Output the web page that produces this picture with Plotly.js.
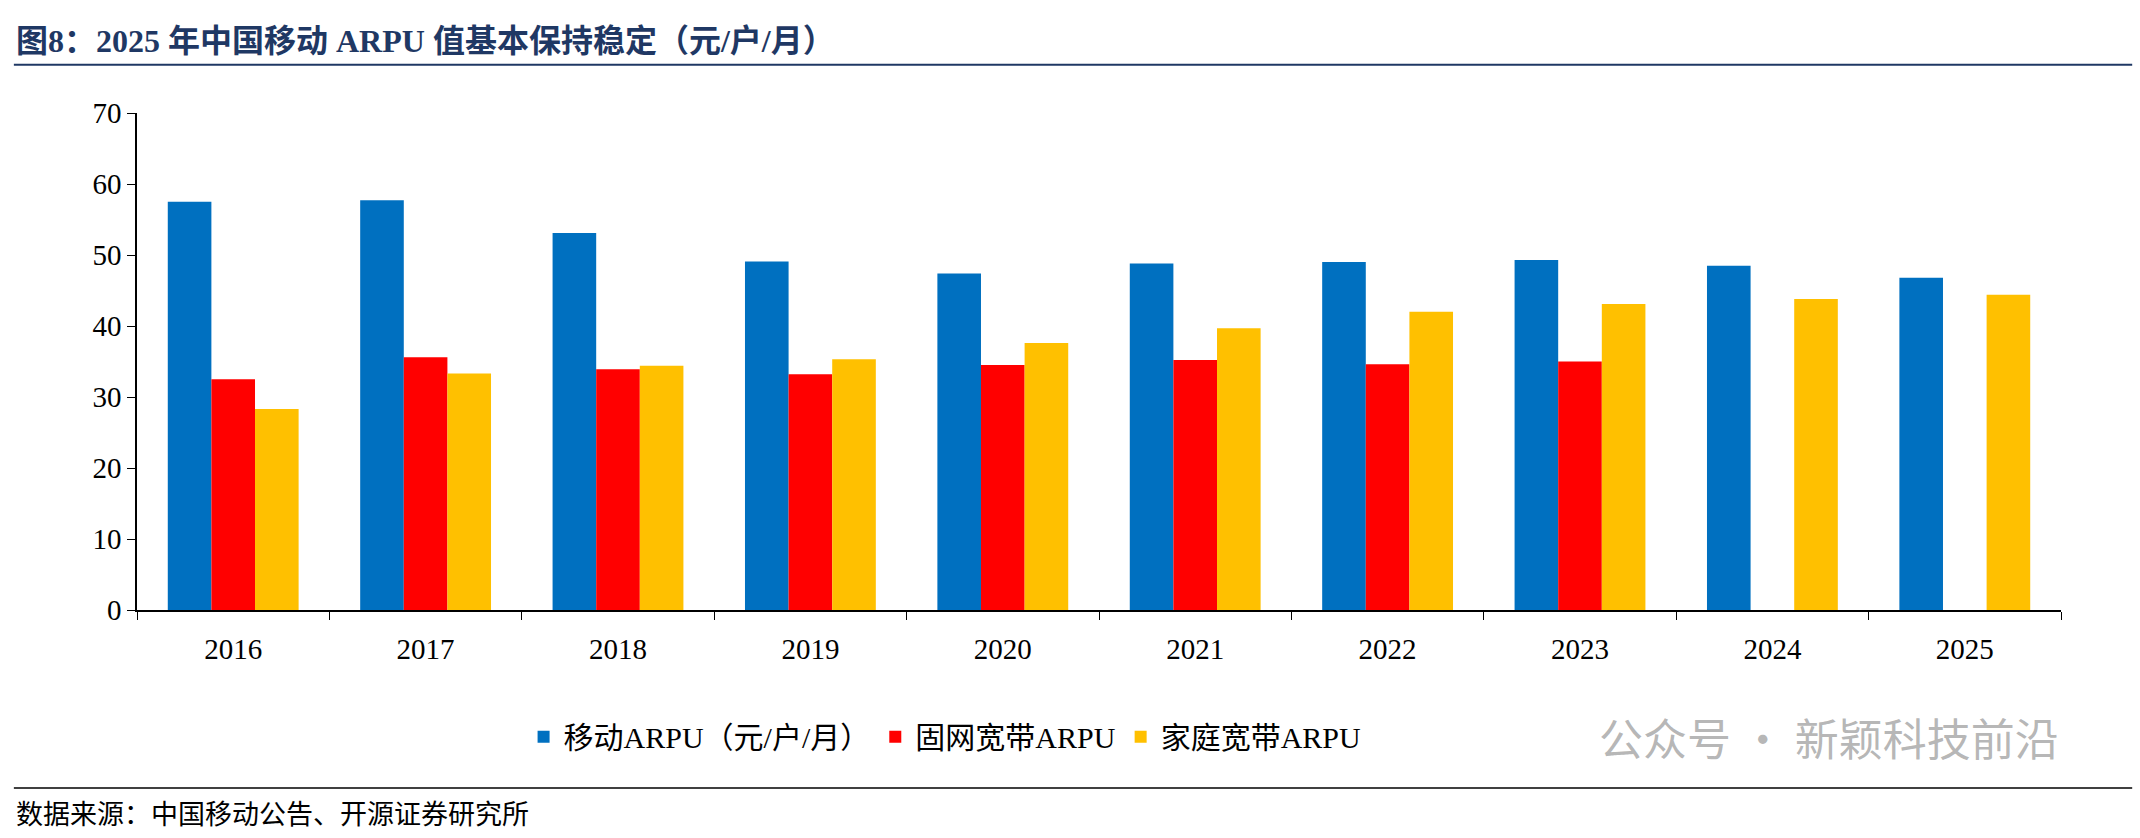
<!DOCTYPE html>
<html><head><meta charset="utf-8">
<script src="https://cdn.plot.ly/plotly-3.0.1.min.js"></script>
<style>body{margin:0;background:#fff}#chart{width:2140px;height:838px}</style>
</head><body><div id="chart"></div>
<script>
  // values
  const years = ['2016','2017','2018','2019','2020','2021','2022','2023','2024','2025'];
  const mobileArpu = [57.5, 57.7, 53.1, 49.1, 47.4, 48.8, 49.0, 49.3, 48.5, 46.8];
  const fixedArpu = [32.5, 35.6, 33.9, 33.2, 34.5, 35.2, 34.6, 35.0, null, null];
  const homeArpu = [28.3, 33.3, 34.4, 35.3, 37.6, 39.7, 42.0, 43.1, 43.8, 44.4];
  const yTicks = [0, 10, 20, 30, 40, 50, 60, 70];

  const serif = '"Liberation Serif", "Noto Sans CJK SC", serif';

  var data = [
    {x: years, y: mobileArpu, type: 'bar', name: '移动ARPU（元/户/月）', marker: {color: '#0070c0'}},
    {x: years, y: fixedArpu, type: 'bar', name: '固网宽带ARPU', marker: {color: '#ff0000'}},
    {x: years, y: homeArpu, type: 'bar', name: '家庭宽带ARPU', marker: {color: '#ffc000'}}
  ];

  var layout = {
    width: 2140, height: 838,
    paper_bgcolor: '#fff', plot_bgcolor: '#fff',
    margin: {l: 137, r: 79, t: 113, b: 228},
    font: {family: serif, size: 29, color: '#000'},
    barmode: 'group', bargap: 0.32, bargroupgap: 0,
    showlegend: true,
    legend: {orientation: 'h', x: 0.42, xanchor: 'center', y: -0.255, yanchor: 'middle',
             font: {size: 30}, itemwidth: 30, tracegroupgap: 0},
    xaxis: {
      type: 'category', tickmode: 'array', tickvals: years, ticktext: years,
      showline: true, linecolor: '#000', linewidth: 1.5,
      ticks: 'outside', tickson: 'boundaries', ticklen: 8, tickcolor: '#000',
      ticklabelstandoff: 12,
      tickfont: {size: 29}, showgrid: false
    },
    yaxis: {
      range: [0, 70], tickvals: yTicks, showgrid: false, zeroline: false,
      showline: true, linecolor: '#000', linewidth: 1.5,
      ticks: 'outside', ticklen: 8, tickcolor: '#000', tickfont: {size: 29}
    },
    shapes: [
      {type: 'line', xref: 'paper', yref: 'paper', x0: -0.064, x1: 1.037, y0: 1.097, y1: 1.097,
       line: {color: '#1f3864', width: 2}},
      {type: 'line', xref: 'paper', yref: 'paper', x0: -0.064, x1: 1.037, y0: -0.358, y1: -0.358,
       line: {color: '#000', width: 1.5}}
    ],
    annotations: [
      {text: '<b>图8：2025 年中国移动 ARPU 值基本保持稳定（元/户/月）</b>', xref: 'paper', yref: 'paper',
       x: -0.064, y: 1.145, xanchor: 'left', yanchor: 'middle', showarrow: false,
       font: {size: 32, color: '#1f3864', family: serif}},
      {text: '数据来源：中国移动公告、开源证券研究所', xref: 'paper', yref: 'paper',
       x: -0.064, y: -0.413, xanchor: 'left', yanchor: 'middle', showarrow: false,
       font: {size: 27, color: '#000', family: serif}},
      {text: '公众号 · 新颖科技前沿', xref: 'paper', yref: 'paper',
       x: 1.0, y: -0.255, xanchor: 'right', yanchor: 'middle', showarrow: false,
       font: {size: 44, color: 'rgba(120,120,120,0.55)', family: '"Noto Sans CJK SC", sans-serif'}}
    ]
  };

  Plotly.newPlot('chart', data, layout, {displayModeBar: false});
</script>
</body></html>
